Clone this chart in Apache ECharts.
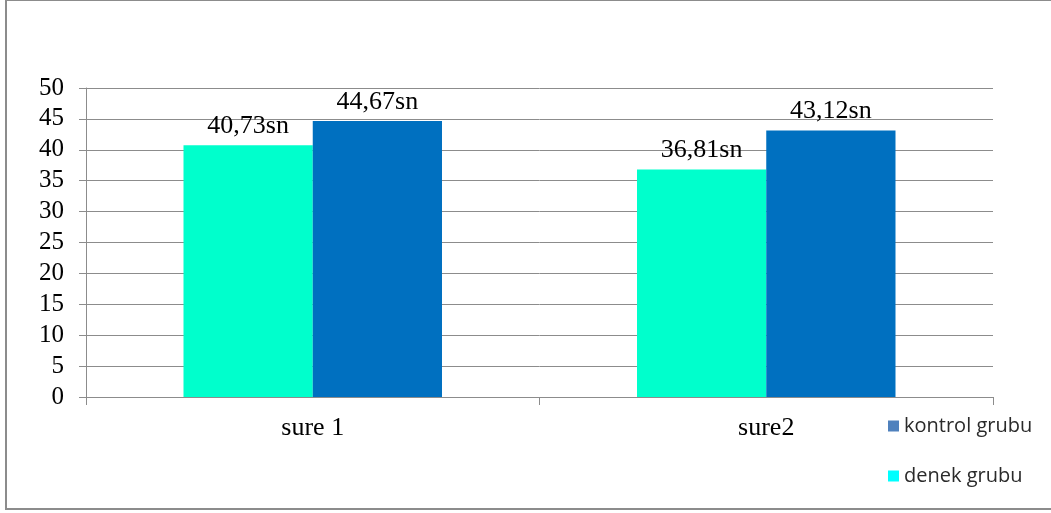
<!DOCTYPE html>
<html>
<head>
<meta charset="utf-8">
<script src="https://cdn.jsdelivr.net/npm/echarts@6/dist/echarts.min.js"></script>
<style>
  html, body { margin: 0; padding: 0; background: #fff; }
  #chart { width: 1051px; height: 513px; }
</style>
</head>
<body>
<div id="chart"></div>
<script>
// Measurement groups and the two groups' mean times (seconds)
const categories = ['sure 1', 'sure2'];
const denekValues = [40.73, 36.81];
const kontrolValues = [44.67, 43.12];
const seriesNames = ['denek grubu', 'kontrol grubu'];

const serif = '"Liberation Serif", "Times New Roman", serif';

function fmt(p) {
  return p.value.toFixed(2).replace('.', ',') + 'sn';
}

const labelStyle = {
  show: true,
  position: 'top',
  distance: 6,
  formatter: fmt,
  fontFamily: serif,
  fontSize: 26,
  color: '#000'
};

const chart = echarts.init(document.getElementById('chart'), null, { renderer: 'canvas' });
chart.setOption({
  animation: false,
  backgroundColor: '#fff',
  graphic: [{
    type: 'rect',
    shape: { x: 6, y: 0, width: 1100, height: 509 },
    style: { fill: 'none', stroke: '#8c8c8c', lineWidth: 2 },
    silent: true
  }],
  grid: { left: 86, right: 58, top: 88, bottom: 116, containLabel: false },
  legend: {
    orient: 'vertical',
    left: 883,
    top: 411,
    itemWidth: 11,
    itemHeight: 11,
    itemGap: 30,
    icon: 'rect',
    textStyle: { fontFamily: '"Open Sans", sans-serif', fontSize: 20, color: '#2a2a2a' },
    data: [
      { name: seriesNames[1], itemStyle: { color: '#4f81bd' } },
      { name: seriesNames[0], itemStyle: { color: '#00ffff' } }
    ]
  },
  xAxis: {
    type: 'category',
    data: categories,
    axisLine: { lineStyle: { color: '#8c8c8c', width: 1 } },
    axisTick: { show: true, length: 8, lineStyle: { color: '#8c8c8c' } },
    axisLabel: { fontFamily: serif, fontSize: 26, color: '#000', margin: 18 }
  },
  yAxis: {
    type: 'value',
    min: 0,
    max: 50,
    interval: 5,
    axisLine: { show: true, lineStyle: { color: '#8c8c8c', width: 1 } },
    axisTick: { show: true, length: 7, lineStyle: { color: '#8c8c8c' } },
    axisLabel: { fontFamily: serif, fontSize: 25, color: '#000', margin: 22 },
    splitLine: { lineStyle: { color: '#8c8c8c', width: 1 } }
  },
  series: [
    {
      name: seriesNames[0],
      type: 'bar',
      data: denekValues,
      barGap: '0%',
      barCategoryGap: '43%',
      itemStyle: { color: '#00ffcc' },
      label: labelStyle
    },
    {
      name: seriesNames[1],
      type: 'bar',
      data: kontrolValues,
      barGap: '0%',
      barCategoryGap: '43%',
      itemStyle: { color: '#0070c0' },
      label: labelStyle
    }
  ]
});
</script>
</body>
</html>
